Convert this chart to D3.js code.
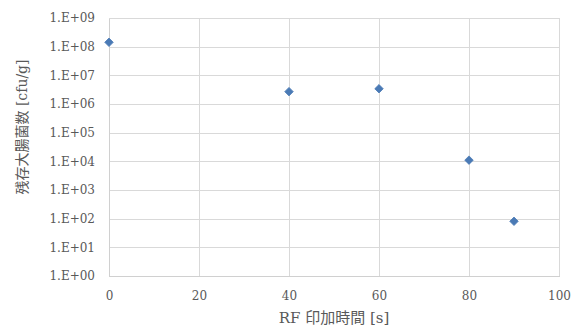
<!DOCTYPE html>
<html><head><meta charset="utf-8">
<script src="https://cdn.jsdelivr.net/npm/d3@7"></script>
<style>body{margin:0;background:#fff}svg{display:block}</style>
</head><body>
<svg id="c" width="579" height="328"></svg>
<script>
const xValues = [0, 40, 60, 80, 90];
const yValues = [1.42e8, 2.7e6, 3.4e6, 1.1e4, 81];
const xTicks = [0, 20, 40, 60, 80, 100];
const yTicks = [1e0,1e1,1e2,1e3,1e4,1e5,1e6,1e7,1e8,1e9];
const xTitle = "RF 印加時間 [s]";
const yTitle = "残存大腸菌数 [cfu/g]";

const svg = d3.select("#c");
const m = {l:109, r:559, t:18, b:276};
const x = d3.scaleLinear().domain([0,100]).range([m.l, m.r]);
const y = d3.scaleLog().domain([1,1e9]).range([m.b, m.t]);
const font = "DejaVu Serif";
const titleFont = "DejaVu Serif, Noto Sans CJK JP";
const txt = "#595959";

const fmt = v => "1.E+" + String(Math.round(Math.log10(v))).padStart(2,"0");

// gridlines
svg.append("g").selectAll("line").data(yTicks).join("line")
  .attr("x1", m.l).attr("x2", m.r).attr("y1", d=>Math.round(y(d))+0.5).attr("y2", d=>Math.round(y(d))+0.5)
  .attr("stroke", "#d9d9d9").attr("stroke-width", 1);
svg.append("g").selectAll("line").data(xTicks).join("line")
  .attr("y1", m.t).attr("y2", m.b).attr("x1", d=>Math.round(x(d))+0.5).attr("x2", d=>Math.round(x(d))+0.5)
  .attr("stroke", "#d9d9d9").attr("stroke-width", 1);

// axes
const yAxis = d3.axisLeft(y).tickValues(yTicks).tickFormat(fmt).tickSize(0).tickPadding(14);
const gy = svg.append("g").attr("transform", `translate(${m.l},0)`).call(yAxis);
const xAxis = d3.axisBottom(x).tickValues(xTicks).tickFormat(d3.format("d")).tickSize(0).tickPadding(15);
const gx = svg.append("g").attr("transform", `translate(0,${m.b})`).call(xAxis);
[gy, gx].forEach(g => {
  g.attr("font-family", font).attr("font-size", 12);
  g.select(".domain").attr("stroke", "#d0d0d0").attr("shape-rendering","crispEdges");
  g.selectAll("text").attr("fill", txt);
});

// points
svg.append("g").selectAll("path").data(xValues.map((v,i)=>[v, yValues[i]])).join("path")
  .attr("d", d3.symbol().type(d3.symbolDiamond2).size(46))
  .attr("transform", d => `translate(${x(d[0])},${y(d[1])})`)
  .attr("fill", "#4a7ab5").attr("stroke", "#4a7ab5").attr("stroke-width", 0.8).attr("stroke-linejoin","round");

// titles
svg.append("text").attr("x", (m.l+m.r)/2).attr("y", 323).attr("text-anchor","middle")
  .attr("fill", txt).attr("font-family", titleFont).attr("font-size", 15).text(xTitle);
svg.append("text").attr("transform", `translate(27,127) rotate(-90)`).attr("text-anchor","middle")
  .attr("fill", txt).attr("font-family", titleFont).attr("font-size", 14).text(yTitle);
</script>
</body></html>
